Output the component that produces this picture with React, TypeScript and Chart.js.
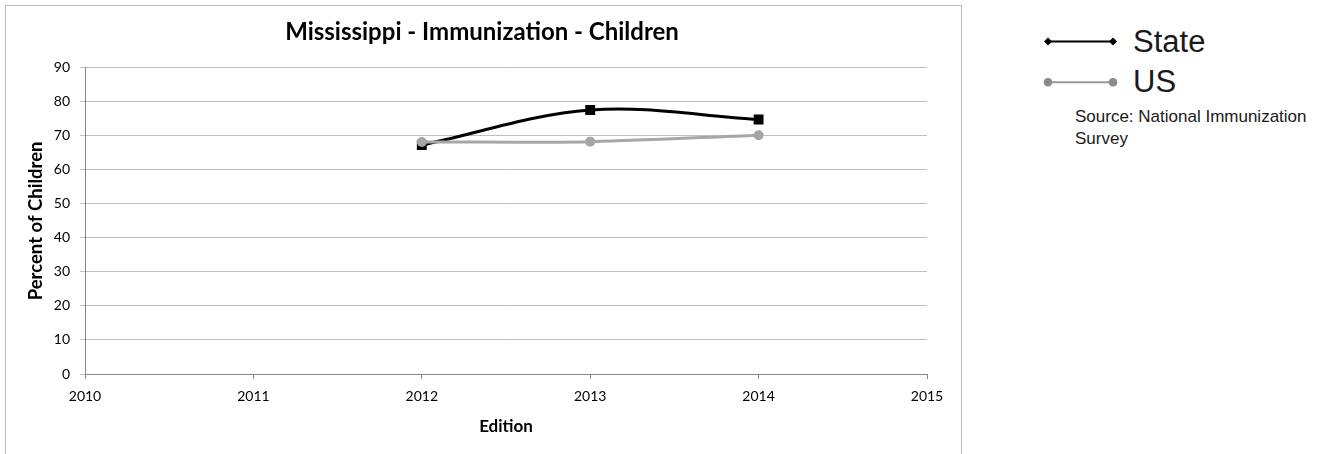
import React, { useEffect, useRef } from "react";
import { Chart, registerables } from "chart.js";

Chart.register(...registerables);

const chartTitle = "Mississippi - Immunization - Children";
const xAxisTitle = "Edition";
const yAxisTitle = "Percent of Children";
const seriesNames = ["State", "US"];
const sourceNote = ["Source: National Immunization", "Survey"];

const years = [2012, 2013, 2014];
const stateValues = [67.3, 77.6, 74.8];
const usValues = [68.2, 68.3, 70.2];

const xTickValues = [2010, 2011, 2012, 2013, 2014, 2015];
const yTickValues = [0, 10, 20, 30, 40, 50, 60, 70, 80, 90];

const CALIBRI_LIKE = "Lato, 'Open Sans', sans-serif";

export default function App() {
  const canvasRef = useRef<HTMLCanvasElement | null>(null);

  useEffect(() => {
    const canvas = canvasRef.current;
    if (!canvas) return;
    const chart = new Chart(canvas, {
      type: "line",
      data: {
        datasets: [
          {
            label: seriesNames[0],
            data: years.map((x, i) => ({ x, y: stateValues[i] })),
            borderColor: "#000000",
            backgroundColor: "#000000",
            borderWidth: 3,
            pointStyle: "rect",
            pointRadius: 7,
            pointBorderWidth: 0,
            tension: 0.35,
            order: 1,
          },
          {
            label: seriesNames[1],
            data: years.map((x, i) => ({ x, y: usValues[i] })),
            borderColor: "#a6a6a6",
            backgroundColor: "#a6a6a6",
            borderWidth: 3,
            pointStyle: "circle",
            pointRadius: 5,
            pointBorderWidth: 0,
            tension: 0.35,
            order: 0,
          },
        ],
      },
      options: {
        responsive: false,
        animation: false,
        layout: { padding: { left: 0, right: 3, top: 0, bottom: 0 } },
        plugins: {
          legend: { display: false },
          tooltip: { enabled: false },
          title: {
            display: true,
            text: chartTitle,
            color: "#000000",
            font: { family: CALIBRI_LIKE, size: 24, weight: "bold", lineHeight: 1.2 },
            padding: { top: 12, bottom: 21 },
          },
        },
        scales: {
          x: {
            type: "linear",
            min: 2010,
            max: 2015,
            afterBuildTicks: (s: any) => {
              s.ticks = xTickValues.map((v) => ({ value: v }));
            },
            afterFit: (s: any) => {
              s.height = 80;
            },
            ticks: {
              autoSkip: false,
              maxRotation: 0,
              padding: 9,
              color: "#000000",
              font: { family: CALIBRI_LIKE, size: 14 },
              callback: (v: any) => String(v),
            },
            grid: {
              drawOnChartArea: false,
              drawTicks: true,
              tickLength: 5,
              color: "#868686",
            },
            border: { display: true, color: "#868686", width: 1 },
            title: {
              display: true,
              text: xAxisTitle,
              color: "#000000",
              font: { family: CALIBRI_LIKE, size: 17, weight: "bold", lineHeight: 1.2 },
              padding: { top: 0, bottom: 17.5 },
            },
          },
          y: {
            type: "linear",
            position: "left",
            min: 0,
            max: 90,
            afterBuildTicks: (s: any) => {
              s.ticks = yTickValues.map((v) => ({ value: v }));
            },
            afterFit: (s: any) => {
              s.width = 79;
            },
            ticks: {
              padding: 10,
              color: "#000000",
              font: { family: CALIBRI_LIKE, size: 14 },
            },
            grid: {
              drawOnChartArea: true,
              drawTicks: true,
              tickLength: 5,
              color: "#bfbfbf",
            },
            border: { display: true, color: "#868686", width: 1 },
            title: {
              display: true,
              text: yAxisTitle,
              color: "#000000",
              font: { family: CALIBRI_LIKE, size: 18.5, weight: "bold", lineHeight: 1.2 },
              padding: { top: 19, bottom: 0 },
            },
          },
          yRightSpace: {
            type: "linear",
            position: "right",
            display: true,
            afterFit: (s: any) => {
              s.width = 31;
            },
            ticks: { display: false },
            grid: { display: false },
            border: { display: false },
          },
        },
      },
    } as any);
    return () => chart.destroy();
  }, []);

  return (
    <div
      style={{
        position: "absolute",
        left: 0,
        top: 0,
        width: 1329,
        height: 454,
        overflow: "hidden",
        background: "#ffffff",
      }}
    >
      <div
        style={{
          position: "absolute",
          left: 5,
          top: 5,
          width: 955,
          height: 460,
          border: "1px solid #bfbfbf",
          background: "#ffffff",
        }}
      >
        <canvas ref={canvasRef} width={955} height={448} style={{ display: "block" }} />
      </div>

      <svg
        style={{ position: "absolute", left: 1038, top: 30, overflow: "visible" }}
        width={85}
        height={65}
      >
        <line x1={10} y1={11.5} x2={75} y2={11.5} stroke="#000000" strokeWidth={2} />
        <polygon points="10,7.5 14,11.5 10,15.5 6,11.5" fill="#000000" />
        <polygon points="75,7.5 79,11.5 75,15.5 71,11.5" fill="#000000" />
        <line x1={10} y1={52.3} x2={75} y2={52.3} stroke="#999999" strokeWidth={2} />
        <circle cx={10} cy={52.3} r={4.3} fill="#8a8a8a" />
        <circle cx={75} cy={52.3} r={4.3} fill="#8a8a8a" />
      </svg>
      <div
        style={{
          position: "absolute",
          left: 1133,
          top: 26,
          fontFamily: "'Liberation Sans', Arial, sans-serif",
          fontSize: 31,
          lineHeight: "31px",
          color: "#1a1a1a",
          whiteSpace: "nowrap",
        }}
      >
        {seriesNames[0]}
      </div>
      <div
        style={{
          position: "absolute",
          left: 1133,
          top: 66,
          fontFamily: "'Liberation Sans', Arial, sans-serif",
          fontSize: 31,
          lineHeight: "31px",
          color: "#1a1a1a",
          whiteSpace: "nowrap",
        }}
      >
        {seriesNames[1]}
      </div>
      <div
        style={{
          position: "absolute",
          left: 1075,
          top: 106,
          fontFamily: "'Liberation Sans', Arial, sans-serif",
          fontSize: 17,
          lineHeight: "22px",
          color: "#1a1a1a",
          whiteSpace: "nowrap",
        }}
      >
        {sourceNote.map((t, i) => (
          <div key={i}>{t}</div>
        ))}
      </div>
    </div>
  );
}
